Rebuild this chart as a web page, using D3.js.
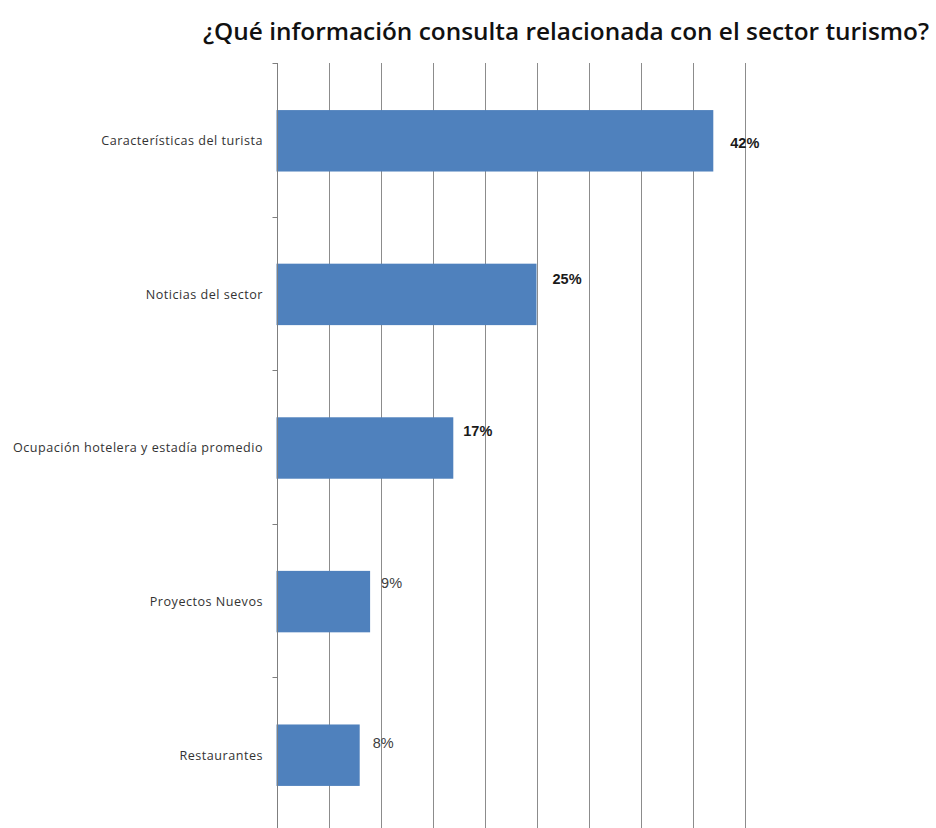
<!DOCTYPE html>
<html>
<head>
<meta charset="utf-8">
<script src="https://cdn.jsdelivr.net/npm/d3@7"></script>
<style>
  html, body { margin: 0; padding: 0; background: #fff; }
  svg { display: block; }
</style>
</head>
<body>
<script>
// Survey answers: share of respondents per kind of tourism information consulted
const title = "¿Qué información consulta relacionada con el sector turismo?";
const categories = [
  "Características del turista",
  "Noticias del sector",
  "Ocupación hotelera y estadía promedio",
  "Proyectos Nuevos",
  "Restaurantes"
];
const values = [42, 25, 17, 9, 8];
const valueLabels = ["42%", "25%", "17%", "9%", "8%"];
const gridTicks = [0, 5, 10, 15, 20, 25, 30, 35, 40, 45];

// Hand-placed data label offsets (from the bar end / bar middle) and weights
const labelDx = [17, 16, 10, 11, 13];
const labelDy = [2, -15, -17, -19, -12];
const labelBold = [true, true, true, false, false];

const W = 936, H = 828;
const svg = d3.select("body").append("svg")
  .attr("width", W).attr("height", H);

const x = d3.scaleLinear().domain([0, 45]).range([276.5, 744.5]);
const y = d3.scaleBand().domain(categories)
  .range([64, 832]).paddingInner(0.6).paddingOuter(0.3);

// Title
svg.append("text")
  .attr("x", 203).attr("y", 40)
  .attr("textLength", 726).attr("lengthAdjust", "spacingAndGlyphs")
  .style("font-family", "'Open Sans', 'Liberation Sans', sans-serif")
  .style("font-weight", 600)
  .style("font-size", "23px")
  .style("fill", "#111")
  .text(title);

// Vertical gridlines
svg.append("g").selectAll("line")
  .data(gridTicks.slice(1))
  .join("line")
  .attr("x1", d => Math.round(x(d)) + 0.5)
  .attr("x2", d => Math.round(x(d)) + 0.5)
  .attr("y1", 63).attr("y2", H)
  .attr("stroke", "#8c8c8c").attr("stroke-width", 1);

// Bars
svg.append("g").selectAll("rect")
  .data(values)
  .join("rect")
  .attr("x", x(0))
  .attr("y", (d, i) => y(categories[i]))
  .attr("width", d => x(d) - x(0))
  .attr("height", y.bandwidth())
  .attr("fill", "#4f81bd");

// Category axis: line plus outward ticks on band boundaries
const axisX = Math.round(x(0)) + 0.5;
svg.append("line")
  .attr("x1", axisX).attr("x2", axisX)
  .attr("y1", 63).attr("y2", H)
  .attr("stroke", "#7f7f7f");
const step = y.step();
const bounds = d3.range(categories.length + 1).map(i => y.range()[0] - 1 + i * step);
svg.append("g").selectAll("line")
  .data(bounds)
  .join("line")
  .attr("x1", axisX - 5).attr("x2", axisX)
  .attr("y1", d => Math.round(d) + 0.5)
  .attr("y2", d => Math.round(d) + 0.5)
  .attr("stroke", "#7f7f7f");

// Category labels
svg.append("g").selectAll("text")
  .data(categories)
  .join("text")
  .attr("x", 263)
  .attr("y", d => y(d) + y.bandwidth() / 2)
  .attr("dy", "0.35em")
  .attr("text-anchor", "end")
  .style("font-family", "'Open Sans', 'DejaVu Sans', sans-serif")
  .style("font-size", "12.6px")
  .style("letter-spacing", "0.5px")
  .style("fill", "#333")
  .text(d => d);

// Value labels
svg.append("g").selectAll("text")
  .data(values)
  .join("text")
  .attr("x", (d, i) => x(d) + labelDx[i])
  .attr("y", (d, i) => y(categories[i]) + y.bandwidth() / 2 + labelDy[i])
  .attr("dy", "0.35em")
  .style("font-family", "'Liberation Sans', Arial, sans-serif")
  .style("font-size", "14.5px")
  .style("font-weight", (d, i) => labelBold[i] ? "bold" : "normal")
  .style("fill", (d, i) => labelBold[i] ? "#1a1a1a" : "#404040")
  .text((d, i) => valueLabels[i]);
</script>
</body>
</html>
